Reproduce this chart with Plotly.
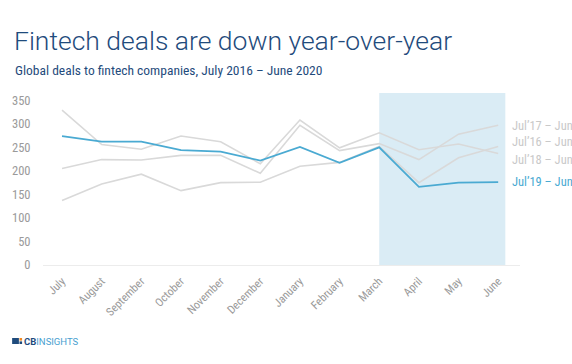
import plotly.graph_objects as go

months = ["July", "August", "September", "October", "November", "December",
          "January", "February", "March", "April", "May", "June"]
jul16_jun17 = [137, 172, 193, 158, 175, 176, 210, 218, 252, 175, 228, 252]
jul17_jun18 = [205, 224, 223, 233, 233, 195, 297, 243, 258, 224, 278, 297]
jul18_jun19 = [329, 256, 246, 274, 262, 215, 308, 249, 281, 245, 257, 237]
jul19_jun20 = [274, 262, 262, 244, 241, 222, 251, 217, 250, 166, 175, 176]
y_ticks = [0, 50, 100, 150, 200, 250, 300, 350]

W, H = 572, 364
L, R, T, B = 41, 520, 93, 265

def px(x):
    return (x - L) / (R - L)

def py(y):
    return (B - y) / (B - T)

GRAY = "#d9d9d9"
BLUE = "#4aaad2"
NAVY = "#1f4b7c"
xi = list(range(len(months)))

fig = go.Figure()
for s in [jul16_jun17, jul17_jun18, jul18_jun19]:
    fig.add_trace(go.Scatter(x=xi, y=s, mode="lines",
                             line=dict(color=GRAY, width=1.6), hoverinfo="skip"))
fig.add_trace(go.Scatter(x=xi, y=jul19_jun20, mode="lines",
                         line=dict(color=BLUE, width=1.8), hoverinfo="skip"))

shapes = [
    dict(type="rect", xref="x", yref="paper", x0=8, x1=11.18, y0=0, y1=1,
         fillcolor="#daecf5", line=dict(width=0), layer="below"),
    # logo icon
    dict(type="rect", xref="paper", yref="paper", x0=px(10), x1=px(16.8),
         y0=py(344), y1=py(338), fillcolor="#1f4b7c", line=dict(width=0)),
    dict(type="rect", xref="paper", yref="paper", x0=px(17.4), x1=px(20),
         y0=py(340.6), y1=py(338), fillcolor="#f08a24", line=dict(width=0)),
    dict(type="rect", xref="paper", yref="paper", x0=px(17.4), x1=px(20),
         y0=py(344), y1=py(341.4), fillcolor="#1f4b7c", line=dict(width=0)),
]

label_font = "Roboto Condensed, Liberation Sans Narrow, Roboto, sans-serif"
annotations = [
    dict(text="Fintech deals are down year-over-year", xref="paper", yref="paper",
         x=px(10), y=py(41), xanchor="left", yanchor="middle", showarrow=False,
         font=dict(family="Roboto", size=26.5, color=NAVY, weight=300)),
    dict(text="Global deals to fintech companies, July 2016 – June 2020",
         xref="paper", yref="paper", x=px(11), y=py(70), xanchor="left",
         yanchor="middle", showarrow=False,
         font=dict(family=label_font, size=13.5, color=NAVY)),
    dict(text="<b>CB</b><span style='color:#4a9fd0'>INSIGHTS</span>",
         xref="paper", yref="paper", x=px(20), y=py(341), xanchor="left",
         yanchor="middle", showarrow=False,
         font=dict(family="Roboto", size=9.5, color=NAVY)),
]
for txt, ypx, col in [("Jul’17 – Jun’18", 125, "#c9c9c9"),
                      ("Jul’16 – Jun’17", 141, "#c9c9c9"),
                      ("Jul’18 – Jun’19", 159.5, "#c9c9c9"),
                      ("Jul’19 – Jun’20", 181, BLUE)]:
    annotations.append(dict(text=txt, xref="paper", yref="paper", x=px(510),
                            y=py(ypx), xanchor="left", yanchor="middle",
                            showarrow=False,
                            font=dict(family=label_font, size=12.5, color=col)))

fig.update_layout(
    width=W, height=H,
    margin=dict(l=L, r=W - R, t=T, b=H - B, pad=0),
    paper_bgcolor="white", plot_bgcolor="white",
    showlegend=False, hovermode=False,
    shapes=shapes, annotations=annotations,
    xaxis=dict(range=[-0.48, 11.55], tickmode="array", tickvals=xi,
               ticktext=months, tickangle=-45, showgrid=False, zeroline=False,
               showline=True, linecolor="#ececec", linewidth=1,
               ticks="outside", ticklen=4, tickcolor="rgba(0,0,0,0)",
               tickfont=dict(family=label_font, size=11.5, color="#9a9a9a")),
    yaxis=dict(range=[0, 365.5], tickmode="array", tickvals=y_ticks,
               showgrid=False, zeroline=False, showline=False,
               ticks="outside", ticklen=9, tickcolor="rgba(0,0,0,0)",
               tickfont=dict(family=label_font, size=12.5, color="#9a9a9a")),
)

fig.write_html("out.html", config={"displayModeBar": False},
               post_script="document.body.style.margin='0px';"
                           "document.body.style.overflow='hidden';")
